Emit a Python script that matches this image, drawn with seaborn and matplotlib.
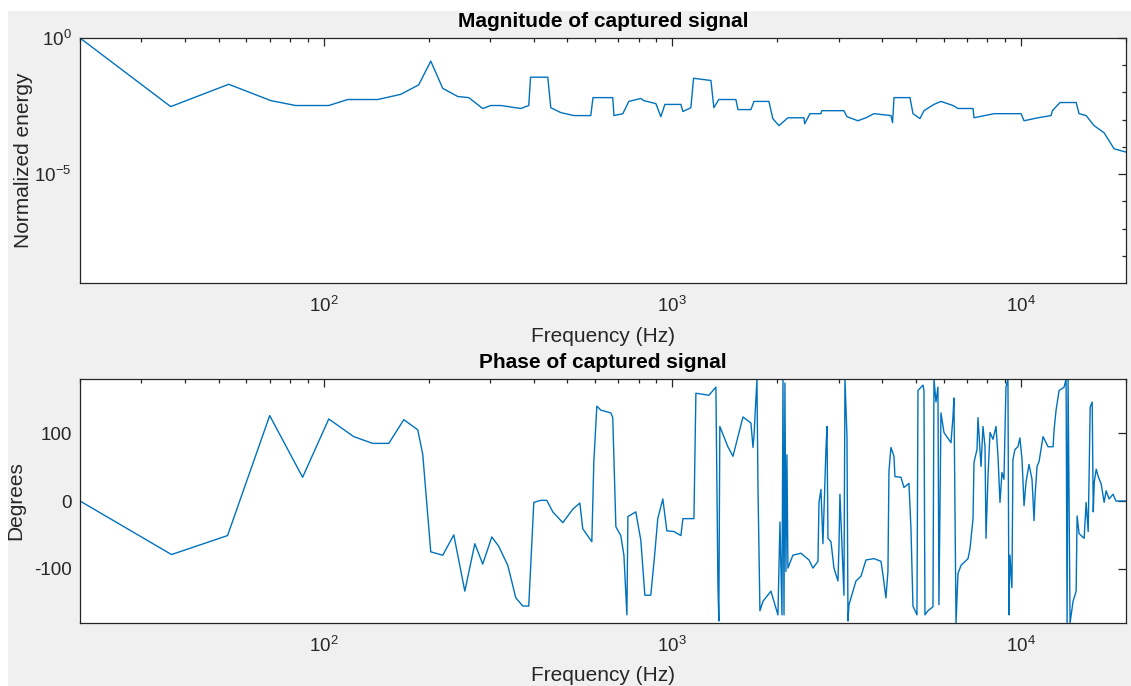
import matplotlib
matplotlib.use("Agg")
import matplotlib.pyplot as plt
from matplotlib.patches import Rectangle
from matplotlib.ticker import FixedLocator, LogLocator, NullFormatter, LogFormatterSciNotation
import numpy as np
import pandas as pd
import seaborn as sns

# ---------------- data ----------------
mag_freq_hz = [20, 36.4, 53.4, 70.5, 83.1, 103.4, 117.2, 142.9, 166.3, 187.3, 202.8, 219.5,
               242.4, 260.6, 285.8, 301.4, 322, 367.4, 387.3, 392, 439.2, 448, 478.6, 521.8,
               583.4, 592, 674.5, 680, 721, 750, 812, 828, 896.7, 926.8, 951.7, 1058, 1072,
               1130, 1150, 1290, 1315, 1359, 1521, 1542, 1680, 1714, 1892, 1941, 2021, 2145,
               2384, 2396, 2481, 2667, 2683, 3105, 3168, 3405, 3591, 3787, 4236, 4280, 4322,
               4803, 4899, 5130, 5268, 5625, 5893, 6379, 6594, 7282, 7330, 8367, 10000, 10200,
               11190, 12190, 12300, 12940, 14390, 14670, 15370, 16200, 17300, 18490, 20000]
mag_log10 = [0, -2.52, -1.70, -2.30, -2.48, -2.48, -2.26, -2.26, -2.07, -1.72, -0.85, -1.85,
             -2.15, -2.19, -2.59, -2.48, -2.48, -2.59, -2.48, -1.44, -1.44, -2.56, -2.74, -2.85,
             -2.85, -2.19, -2.19, -2.85, -2.78, -2.33, -2.22, -2.30, -2.41, -2.89, -2.44, -2.44, -2.70,
             -2.56, -1.48, -1.56, -2.56, -2.26, -2.26, -2.63, -2.63, -2.33, -2.33, -2.96, -3.22, -2.93,
             -2.93, -3.15, -2.78, -2.78, -2.67, -2.67, -2.89, -3.04, -2.93, -2.78, -2.85, -3.11, -2.19,
             -2.19, -2.78, -2.96, -2.67, -2.44, -2.33, -2.48, -2.59, -2.59, -2.93, -2.78, -2.78, -3.04,
             -2.93, -2.85, -2.67, -2.37, -2.37, -2.78, -2.85, -3.22, -3.48, -4.07, -4.19]

phase_freq_hz = [20, 36.6, 53, 70, 87, 103.4, 121.9, 138.2, 153.7, 169.7, 186.1, 192.3, 202.8,
                 219.5, 236.1, 253.9, 271.3, 285.8, 303.5, 317.8, 337.3, 355.6, 372.4, 387.3,
                 400.5, 419.5, 436.3, 453.9, 485, 518.3, 542.8, 553.4, 587.5, 595.3, 607.3, 623.6,
                 666, 674.5, 688.6, 711.2, 726.1, 740.6, 745.5, 785.3, 812, 833.7, 867.2, 891.2,
                 908, 939, 964, 1010, 1058, 1072, 1153, 1168, 1273, 1333, 1351, 1359, 1368, 1443,
                 1492, 1594, 1680, 1703, 1714, 1748, 1760, 1783, 1819, 1917, 2008, 2035, 2062,
                 2076, 2090, 2103, 2117, 2131, 2145, 2216, 2337, 2465, 2530, 2616, 2633, 2668,
                 2703, 2757, 2776, 2794, 2850, 2907, 2985, 3005, 3024, 3064, 3105, 3126, 3168,
                 3189, 3210, 3362, 3475, 3591, 3787, 3966, 4018, 4097, 4152, 4180, 4235, 4320,
                 4349, 4525, 4615, 4770, 4834, 4898, 5029, 5063, 5234, 5267, 5302, 5408, 5590,
                 5627, 5702, 5777, 5815, 5893, 6012, 6297, 6379, 6421, 6509, 6594, 6728, 7046,
                 7140, 7282, 7330, 7476, 7526, 7676, 7778, 7882, 7935, 8040, 8147, 8311, 8476,
                 8588, 8702, 8817, 8933, 9052, 9171, 9232, 9293, 9416, 9479, 9605, 9796, 9926,
                 10066, 10200, 10335, 10541, 10752, 10896, 10968, 11114, 11262, 11565, 11953,
                 12356, 12438, 12603, 12856, 13288, 13464, 13553, 13643, 13823, 14100, 14390,
                 14480, 14670, 14870, 15170, 15370, 15580, 15790, 16000, 16110, 16220, 16430,
                 16650, 16980, 17310, 17540, 17890, 18360, 18720, 20000]
phase_deg = [0, -79, -51, 126, 35, 121, 95, 85, 85, 120, 105, 69, -75,
             -80, -50, -133, -63, -93, -53, -67, -95, -143, -155, -155,
             -2, 1, 1, -16, -32, -12, -3, -41, -60, 58, 140, 134,
             130, 123, -38, -51, -80, -168, -23, -16, -58, -139, -139, -75,
             -26, 3, -44, -45, -51, -26, -26, 159, 156, 168, -124, -177, 110, 80,
             66, 124, 115, 79, 95, 180, 20, -162, -148, -133, -168, -31, -168,
             180, -168, 174, -104, 68, -99, -80, -77, -87, -99, -89, -2, 17,
             -63, 76, 110, -55, -60, -99, -118, -66, 10, -66, -139, 180, 95,
             -177, -153, -118, -111, -87, -85, -89, -109, -143, -104, 44, 79, 66,
             36, 35, 20, 26, -41, -155, -168, 163, 171, 163, -168, -162, -156,
             180, 146, 168, -153, 130, 101, 86, 124, 152, -180, -107, -95, -85,
             -70, -26, 57, 76, 123, 51, 110, 80, -55, 37, 101, 91, 110,
             66, -2, 42, 32, 168, 180, -168, -80, -128, 61, 76, 80, 93,
             61, -7, 28, 54, 32, -29, 7, 51, 58, 95, 80,
             80, 105, 134, 163, 168, 180, -180, 180, -180, -148, -133,
             -22, -48, -51, -55, -2, -45, 139, 146, -16, 28, 47,
             36, 25, -2, 15, 3, 10, 0, 0]

titles = ["Magnitude of captured signal", "Phase of captured signal"]
x_label = "Frequency (Hz)"
y_labels = ["Normalized energy", "Degrees"]
mag_yticks = [1e-5, 1e0]
phase_yticks = [-100, 0, 100]

mag_df = pd.DataFrame({"freq": mag_freq_hz, "mag": np.power(10.0, mag_log10)})
phase_df = pd.DataFrame({"freq": phase_freq_hz, "deg": phase_deg})

# ---------------- style ----------------
sns.set_style("white")
plt.rcParams["font.family"] = ["Liberation Sans", "DejaVu Sans"]
plt.rcParams["mathtext.fontset"] = "custom"
plt.rcParams["mathtext.rm"] = "Liberation Sans"
plt.rcParams["mathtext.it"] = "Liberation Sans:italic"
plt.rcParams["mathtext.bf"] = "Liberation Sans:bold"
plt.rcParams["axes.unicode_minus"] = False

LINE = "#0072BD"
AXC = "#262626"
BG = "#f0f0f0"
W, H = 1131, 686

fig = plt.figure(figsize=(W / 100, H / 100), dpi=100, facecolor="white")
fig.add_artist(Rectangle((8 / W, 0), 1, 1 - 11 / H, transform=fig.transFigure,
                         facecolor=BG, edgecolor="none", zorder=-10))

ax1 = fig.add_axes([80 / W, 1 - 283 / H, 1046 / W, 245 / H])
ax2 = fig.add_axes([80 / W, 1 - 623 / H, 1046 / W, 244 / H])

sns.lineplot(data=mag_df, x="freq", y="mag", ax=ax1, color=LINE, linewidth=1.0,
             estimator=None, sort=False)
sns.lineplot(data=phase_df, x="freq", y="deg", ax=ax2, color=LINE, linewidth=1.0,
             estimator=None, sort=False)

for ax in (ax1, ax2):
    ax.set_facecolor("white")
    ax.set_xscale("log")
    ax.set_xlim(20, 20000)
    ax.xaxis.set_major_locator(FixedLocator([1e2, 1e3, 1e4]))
    ax.xaxis.set_major_formatter(LogFormatterSciNotation())
    ax.xaxis.set_minor_locator(LogLocator(base=10, subs=np.arange(2, 10), numticks=20))
    ax.xaxis.set_minor_formatter(NullFormatter())
    for sp in ax.spines.values():
        sp.set_visible(True)
        sp.set_color(AXC)
        sp.set_linewidth(0.9)
    ax.tick_params(which="both", direction="in", top=True, right=True, color=AXC,
                   labelcolor=AXC, width=0.9)
    ax.tick_params(which="major", length=6.0)
    ax.tick_params(which="minor", length=3.0)
    ax.tick_params(axis="x", which="major", labelsize=13.5, pad=9)
    ax.tick_params(axis="y", which="major", labelsize=13.5, pad=6)
    ax.set_xlabel(x_label, fontsize=15, color=AXC)
    ax.xaxis.label.set_va("top")
    ax.xaxis.set_label_coords(0.5, -0.178)

ax1.set_yscale("log")
ax1.set_ylim(1e-9, 1)
ax1.yaxis.set_major_locator(FixedLocator(mag_yticks))
ax1.yaxis.set_major_formatter(LogFormatterSciNotation())
ax1.yaxis.set_minor_locator(FixedLocator([10.0 ** -k for k in range(1, 9)]))
ax1.yaxis.set_minor_formatter(NullFormatter())

ax2.set_ylim(-180, 180)
ax2.set_yticks(phase_yticks)
ax2.yaxis.set_minor_locator(FixedLocator([]))

ax1.set_ylabel(y_labels[0], fontsize=15, color=AXC)
ax1.yaxis.set_label_coords(-0.045, 0.5)
ax2.set_ylabel(y_labels[1], fontsize=15, color=AXC)
ax2.yaxis.set_label_coords(-0.0526, 0.5)

ax1.set_title(titles[0], fontsize=15, fontweight="bold", color="black", pad=8)
ax2.set_title(titles[1], fontsize=15, fontweight="bold", color="black", pad=8)

fig.savefig("out.png", dpi=100, facecolor=fig.get_facecolor())
